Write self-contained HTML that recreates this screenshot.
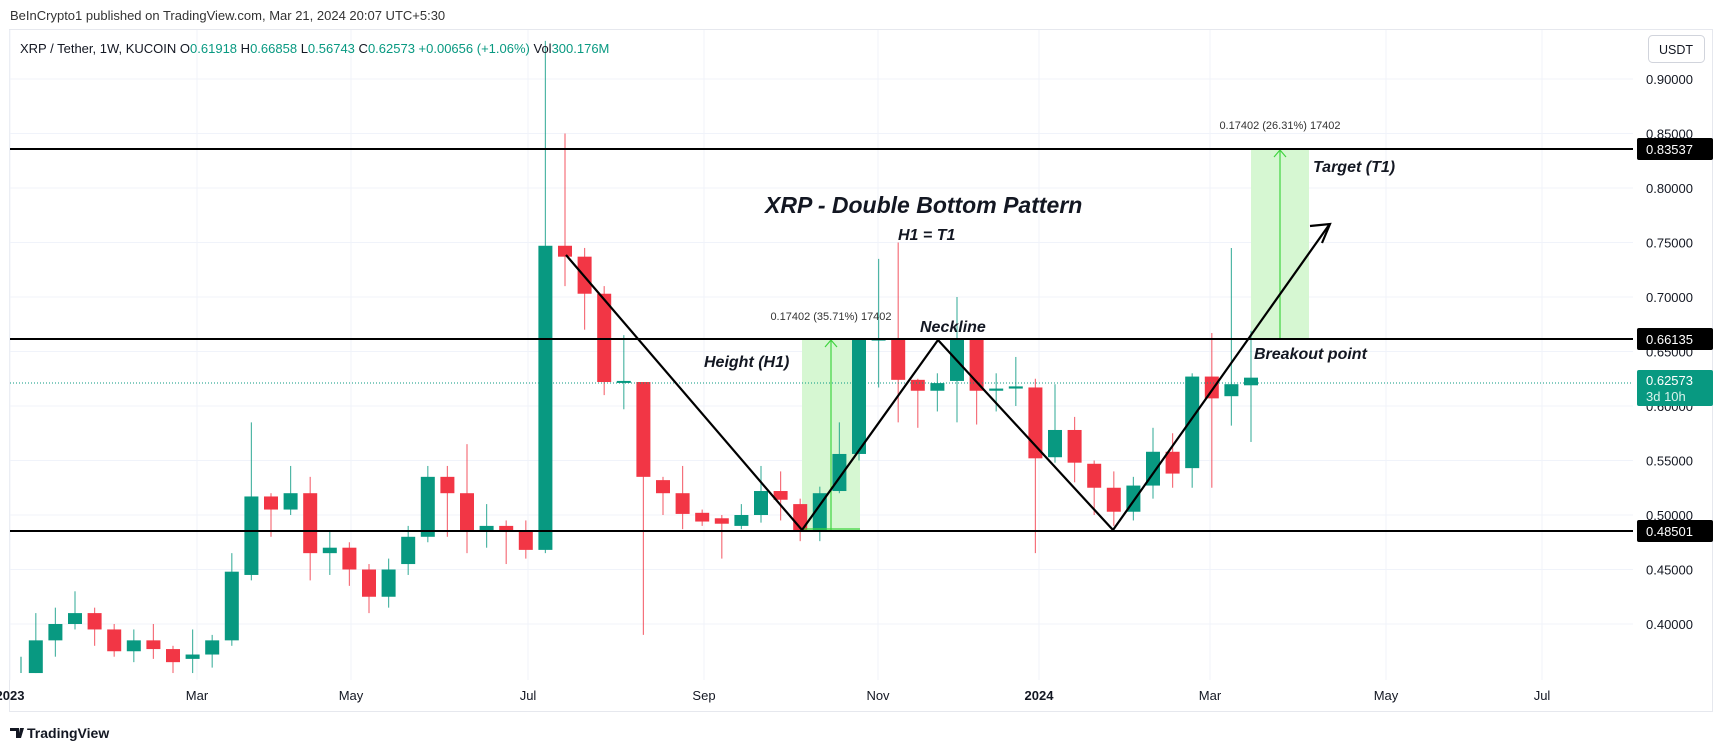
<!DOCTYPE html>
<html><head><meta charset="utf-8"><style>
html,body{margin:0;padding:0;background:#fff;width:1722px;height:752px;overflow:hidden}
svg{display:block}
text{font-family:"Liberation Sans",sans-serif}
</style></head><body>
<svg id="c" width="1722" height="752" xmlns="http://www.w3.org/2000/svg">
<rect width="1722" height="752" fill="#fff"/>
<text x="10" y="20" font-size="13" fill="#333">BeInCrypto1 published on TradingView.com, Mar 21, 2024 20:07 UTC+5:30</text>
<rect x="9.5" y="29.5" width="1703" height="682" fill="none" stroke="#e6e8ee"/>
<g id="grid"></g>
<g id="boxes"></g>
<g id="candles"></g>
<g id="draw"></g>
<text x="20" y="53" font-size="13" fill="#131722">XRP / Tether, 1W, KUCOIN <tspan fill="#131722">O</tspan><tspan fill="#089981">0.61918</tspan> <tspan fill="#131722">H</tspan><tspan fill="#089981">0.66858</tspan> <tspan fill="#131722">L</tspan><tspan fill="#089981">0.56743</tspan> <tspan fill="#131722">C</tspan><tspan fill="#089981">0.62573 +0.00656 (+1.06%)</tspan> <tspan fill="#131722">Vol</tspan><tspan fill="#089981">300.176M</tspan></text>
<rect x="1648.5" y="35.5" width="56" height="27" rx="4" fill="#fff" stroke="#d1d4dc"/>
<text x="1676" y="54" font-size="12.5" fill="#131722" text-anchor="middle">USDT</text>
<g transform="translate(10,726)"><path d="M0 2h9v10h-3v-7h-6z M10 2h4l-3 10h-3z" fill="#131722"/></g>
<text x="27" y="738" font-size="14" font-weight="bold" fill="#131722">TradingView</text>
</svg>
<script>
const NS="http://www.w3.org/2000/svg";
function el(p,t,a,txt){const e=document.createElementNS(NS,t);for(const k in a)e.setAttribute(k,a[k]);if(txt!==undefined)e.textContent=txt;document.getElementById(p).appendChild(e);return e;}
const Y=p=>515-1090*(p-0.5);
for(let p=0.40;p<=0.901;p+=0.05){const y=Y(p);el('grid','line',{x1:10,x2:1633,y1:y,y2:y,stroke:'#f0f3fa','stroke-width':1});}
const months=[[10,'2023',1],[197,'Mar'],[351,'May'],[528,'Jul'],[704,'Sep'],[878,'Nov'],[1039,'2024',1],[1210,'Mar'],[1386,'May'],[1542,'Jul']];
months.forEach(m=>{el('grid','line',{x1:m[0],x2:m[0],y1:30,y2:680,stroke:'#f0f3fa'});
 el('grid','text',{x:m[0],y:700,'font-size':13,fill:'#131722','text-anchor':'middle','font-weight':m[2]?'bold':'normal'},m[1]);});
for(let p=0.40;p<=0.901;p+=0.05){el('grid','text',{x:1646,y:Y(p)+5,'font-size':13,fill:'#131722'},p.toFixed(5));}
const C=[[0.355,0.41,0.355,0.385],[0.385,0.415,0.37,0.40],[0.40,0.43,0.395,0.41],[0.41,0.415,0.38,0.395],[0.395,0.40,0.37,0.375],[0.375,0.395,0.365,0.385],[0.385,0.40,0.368,0.377],[0.377,0.38,0.355,0.365],[0.368,0.395,0.355,0.372],[0.372,0.39,0.36,0.385],
[0.385,0.465,0.38,0.448],[0.445,0.585,0.44,0.517],[0.517,0.52,0.48,0.505],[0.505,0.545,0.50,0.52],[0.52,0.535,0.44,0.465],[0.465,0.485,0.445,0.47],[0.47,0.475,0.435,0.45],[0.45,0.455,0.41,0.425],[0.425,0.46,0.415,0.45],[0.455,0.49,0.445,0.48],
[0.48,0.545,0.475,0.535],[0.535,0.545,0.48,0.52],[0.52,0.565,0.465,0.485],[0.485,0.51,0.47,0.49],[0.49,0.495,0.455,0.485],[0.485,0.495,0.46,0.468],[0.468,0.935,0.465,0.747],[0.747,0.85,0.71,0.737],[0.737,0.745,0.67,0.703],[0.703,0.71,0.61,0.622],
[0.622,0.665,0.597,0.623],[0.622,0.62,0.39,0.535],[0.532,0.535,0.50,0.52],[0.52,0.545,0.487,0.501],[0.502,0.505,0.49,0.494],[0.497,0.50,0.46,0.492],[0.49,0.51,0.487,0.50],[0.50,0.545,0.493,0.522],[0.522,0.54,0.495,0.514],[0.51,0.515,0.476,0.485],
[0.485,0.526,0.476,0.52],[0.522,0.585,0.52,0.556],[0.556,0.662,0.55,0.662],[0.66,0.735,0.617,0.662],[0.661,0.75,0.585,0.624],[0.624,0.625,0.58,0.614],[0.614,0.63,0.595,0.621],[0.623,0.70,0.585,0.661],[0.661,0.661,0.583,0.614],[0.614,0.63,0.595,0.616],
[0.616,0.645,0.60,0.618],[0.617,0.625,0.465,0.552],[0.553,0.62,0.548,0.578],[0.578,0.59,0.53,0.548],[0.547,0.55,0.50,0.525],[0.525,0.54,0.49,0.503],[0.503,0.535,0.495,0.527],[0.527,0.58,0.515,0.558],[0.558,0.575,0.525,0.538],[0.543,0.63,0.525,0.627],
[0.627,0.667,0.525,0.607],[0.609,0.745,0.582,0.62],[0.619,0.669,0.567,0.626]];
const N=C.length;
el('candles','line',{x1:21,x2:21,y1:Y(0.37),y2:Y(0.355),stroke:'#089981'});
C.forEach((c,i)=>{const x=1251-(N-1-i)*19.6;const [o,h,l,cl]=c;const col=cl>=o?'#089981':'#f23645';
 el('candles','line',{x1:x,x2:x,y1:Y(h),y2:Y(l),stroke:col,'stroke-width':1.2,opacity:0.7});
 const t=Y(Math.max(o,cl)),b=Y(Math.min(o,cl));el('candles','rect',{x:x-7,y:t,width:14,height:Math.max(2,b-t),fill:col});});
const D='draw';
el('boxes','rect',{x:802,y:339,width:58,height:191,fill:'#d6f7d2'});
el('boxes','rect',{x:1251,y:149,width:58,height:190,fill:'#d6f7d2'});
el(D,'line',{x1:831,x2:831,y1:530,y2:341,stroke:'#3fd43f','stroke-width':1.2});
el(D,'path',{d:'M825 347 L831 340 L837 347',fill:'none',stroke:'#3fd43f','stroke-width':1.2});
el(D,'line',{x1:1280,x2:1280,y1:339,y2:151,stroke:'#3fd43f','stroke-width':1.2});
el(D,'path',{d:'M1274 157 L1280 150 L1286 157',fill:'none',stroke:'#3fd43f','stroke-width':1.2});
el(D,'line',{x1:802,x2:860,y1:529,y2:529,stroke:'#3fd43f','stroke-width':1.2});
[149,339,531].forEach(y=>el(D,'line',{x1:10,x2:1633,y1:y,y2:y,stroke:'#000','stroke-width':2}));
el(D,'line',{x1:10,x2:1633,y1:383,y2:383,stroke:'#089981','stroke-width':1,'stroke-dasharray':'1 2'});
el(D,'polyline',{points:'566,255 802,530 938,340 1113,530 1329,225',fill:'none',stroke:'#000','stroke-width':2.2});
el(D,'path',{d:'M1310 226 L1330 224 L1322 243',fill:'none',stroke:'#000','stroke-width':2.2});
el(D,'text',{x:831,y:320,'font-size':11,fill:'#333','text-anchor':'middle'},'0.17402 (35.71%) 17402');
el(D,'text',{x:1280,y:129,'font-size':11,fill:'#333','text-anchor':'middle'},'0.17402 (26.31%) 17402');
const bi={'font-weight':'bold','font-style':'italic',fill:'#131722'};
function T(x,y,s,t){el(D,'text',Object.assign({x:x,y:y,'font-size':s},bi),t);}
T(765,213,23,'XRP - Double Bottom Pattern');
T(898,240,16,'H1 = T1');
T(920,332,16,'Neckline');
T(704,367,16,'Height (H1)');
T(1313,172,16,'Target (T1)');
T(1254,359,16,'Breakout point');
[[149,'0.83537'],[339,'0.66135'],[531,'0.48501']].forEach(b=>{el(D,'rect',{x:1637,y:b[0]-11,width:76,height:22,rx:2,fill:'#000'});el(D,'text',{x:1646,y:b[0]+5,'font-size':13,fill:'#fff'},b[1]);});
el(D,'rect',{x:1637,y:370,width:76,height:36,rx:2,fill:'#089981'});
el(D,'text',{x:1646,y:385,'font-size':13,fill:'#fff'},'0.62573');
el(D,'text',{x:1646,y:401,'font-size':13,fill:'#d8f3ec'},'3d 10h');
</script>
</body></html>
